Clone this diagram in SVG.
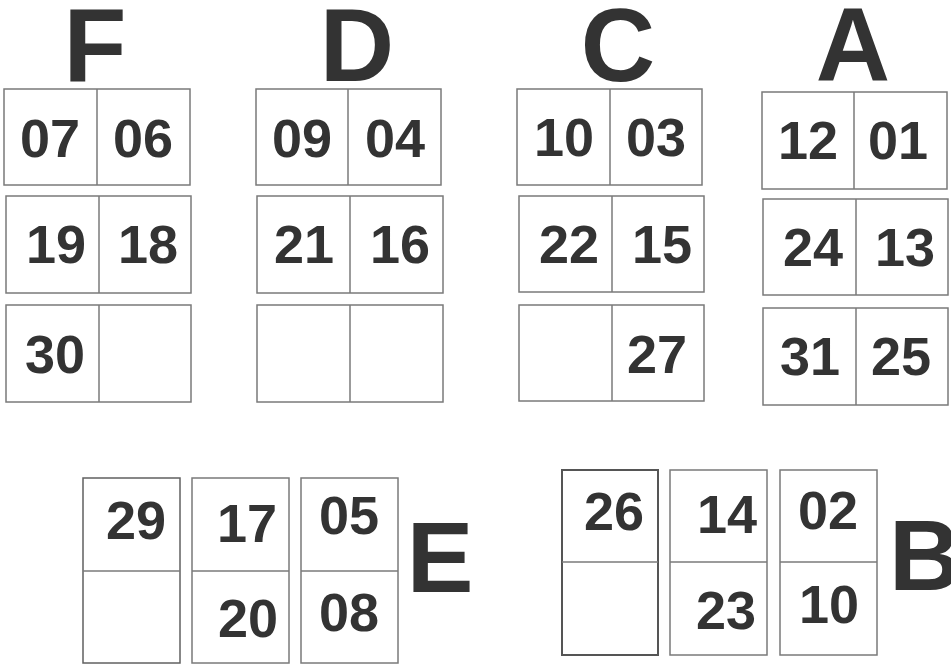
<svg xmlns="http://www.w3.org/2000/svg" width="951" height="664" viewBox="0 0 951 664">
<style>
.b{fill:#fff;stroke:#7a7a7a;stroke-width:1.5}
.l{stroke:#7a7a7a;stroke-width:1.5}
.n{font-family:"Liberation Sans",Arial,sans-serif;font-weight:bold;font-size:54px;fill:#333;text-anchor:middle}
.h{font-family:"Liberation Sans",Arial,sans-serif;font-weight:bold;font-size:103px;fill:#333;text-anchor:middle}
</style>
<rect width="951" height="664" fill="#fff"/>
<g id="labels">
<text class="h" x="95" y="81">F</text>
<text class="h" x="357" y="81">D</text>
<text class="h" x="618" y="81">C</text>
<text class="h" x="853" y="80">A</text>
<text class="h" x="440" y="592" style="font-size:100px">E</text>
<text class="h" x="925" y="590" style="font-size:100px">B</text>
</g>
<g id="F1"><rect class="b" x="4" y="89" width="186" height="96"/><line class="l" x1="97" y1="89" x2="97" y2="185"/><text class="n" x="50" y="157">07</text><text class="n" x="143" y="157">06</text></g>
<g id="F2"><rect class="b" x="6" y="196" width="185" height="97"/><line class="l" x1="99" y1="196" x2="99" y2="293"/><text class="n" x="56" y="263">19</text><text class="n" x="148" y="263">18</text></g>
<g id="F3"><rect class="b" x="6" y="305" width="185" height="97"/><line class="l" x1="99" y1="305" x2="99" y2="402"/><text class="n" x="55" y="373">30</text></g>
<g id="D1"><rect class="b" x="256" y="89" width="185" height="96"/><line class="l" x1="348" y1="89" x2="348" y2="185"/><text class="n" x="302" y="157">09</text><text class="n" x="395" y="157">04</text></g>
<g id="D2"><rect class="b" x="257" y="196" width="186" height="97"/><line class="l" x1="350" y1="196" x2="350" y2="293"/><text class="n" x="304" y="263">21</text><text class="n" x="400" y="263">16</text></g>
<g id="D3"><rect class="b" x="257" y="305" width="186" height="97"/><line class="l" x1="350" y1="305" x2="350" y2="402"/></g>
<g id="C1"><rect class="b" x="517" y="89" width="185" height="96"/><line class="l" x1="610" y1="89" x2="610" y2="185"/><text class="n" x="564" y="156">10</text><text class="n" x="656" y="156">03</text></g>
<g id="C2"><rect class="b" x="519" y="196" width="185" height="96"/><line class="l" x1="612" y1="196" x2="612" y2="292"/><text class="n" x="569" y="263">22</text><text class="n" x="662" y="263">15</text></g>
<g id="C3"><rect class="b" x="519" y="305" width="185" height="96"/><line class="l" x1="612" y1="305" x2="612" y2="401"/><text class="n" x="657" y="373">27</text></g>
<g id="A1"><rect class="b" x="762" y="92" width="185" height="97"/><line class="l" x1="854" y1="92" x2="854" y2="189"/><text class="n" x="808" y="159">12</text><text class="n" x="898" y="159">01</text></g>
<g id="A2"><rect class="b" x="763" y="199" width="185" height="96"/><line class="l" x1="856" y1="199" x2="856" y2="295"/><text class="n" x="813" y="266">24</text><text class="n" x="905" y="266">13</text></g>
<g id="A3"><rect class="b" x="763" y="308" width="185" height="97"/><line class="l" x1="856" y1="308" x2="856" y2="405"/><text class="n" x="810" y="375">31</text><text class="n" x="901" y="375">25</text></g>
<g id="E1"><rect class="b" x="83" y="478" width="97" height="185" style="stroke:#606060"/><line class="l" x1="83" y1="571" x2="180" y2="571"/><text class="n" x="136" y="539">29</text></g>
<g id="E2"><rect class="b" x="192" y="478" width="97" height="185"/><line class="l" x1="192" y1="571" x2="289" y2="571"/><text class="n" x="247" y="542">17</text><text class="n" x="248" y="637">20</text></g>
<g id="E3"><rect class="b" x="301" y="478" width="97" height="185"/><line class="l" x1="301" y1="571" x2="398" y2="571"/><text class="n" x="349" y="534">05</text><text class="n" x="349" y="631">08</text></g>
<g id="B1"><rect class="b" x="562" y="470" width="96" height="185" style="stroke:#555;stroke-width:2"/><line class="l" x1="562" y1="562" x2="658" y2="562"/><text class="n" x="614" y="530">26</text></g>
<g id="B2"><rect class="b" x="670" y="470" width="97" height="185"/><line class="l" x1="670" y1="562" x2="767" y2="562"/><text class="n" x="727" y="533">14</text><text class="n" x="726" y="629">23</text></g>
<g id="B3"><rect class="b" x="780" y="470" width="97" height="185"/><line class="l" x1="780" y1="562" x2="877" y2="562"/><text class="n" x="828" y="529">02</text><text class="n" x="829" y="623">10</text></g>
<g id="connectors"/>
</svg>
